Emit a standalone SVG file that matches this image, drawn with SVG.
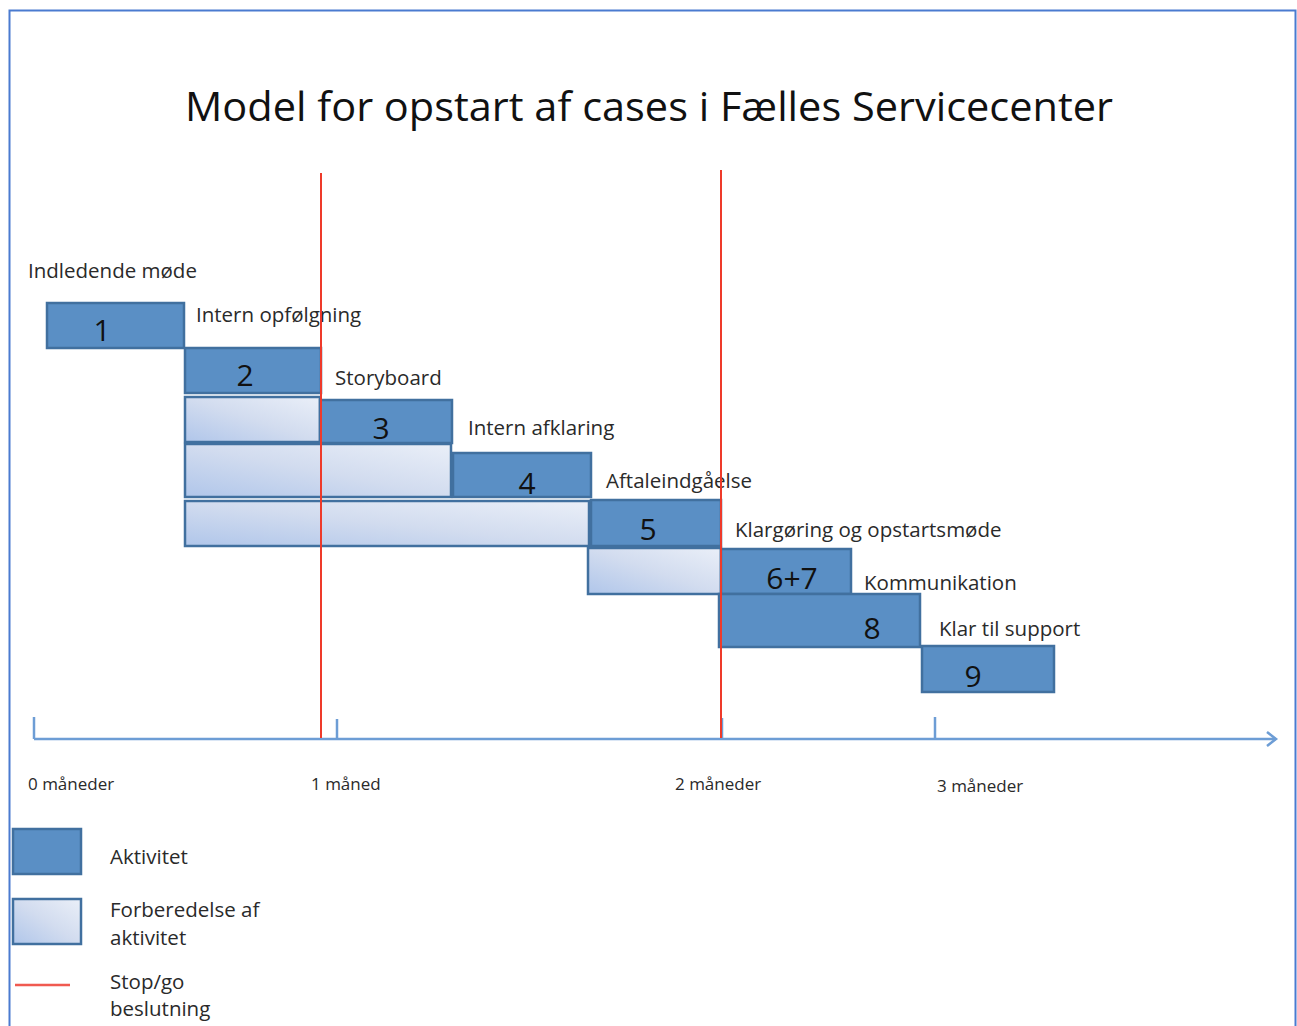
<svg xmlns="http://www.w3.org/2000/svg" width="1297" height="1026" viewBox="0 0 1297 1026">
  <style>
    .act { fill: #5a8fc5; stroke: #41709f; stroke-width: 2.5; }
    .prep { fill: url(#prepFill); stroke: #41709f; stroke-width: 2.5; }
    .num { font-family: "Open Sans", "Liberation Sans", sans-serif; font-size: 30px; fill: #111; text-anchor: middle; }
    .lbl { font-family: "Open Sans", "Liberation Sans", sans-serif; font-size: 20.5px; fill: #2a2a2a; }
    .tick { font-family: "Open Sans", "Liberation Sans", sans-serif; font-size: 17px; fill: #2a2a2a; }
    .stop { stroke: #ee3a2a; stroke-width: 2; }
    .axis { stroke: #6d9dd5; stroke-width: 2.5; fill: none; }
  </style>
  <defs>
    <linearGradient id="prepFill" x1="0" y1="1" x2="1" y2="0">
      <stop offset="0" stop-color="#b0c6ea"/>
      <stop offset="0.5" stop-color="#d2dcef"/>
      <stop offset="1" stop-color="#eaeff8"/>
    </linearGradient>
    <marker id="arrowOpen" markerWidth="14" markerHeight="16" refX="11" refY="8" orient="auto" markerUnits="userSpaceOnUse">
      <path d="M2,1 L11,8 L2,15" fill="none" stroke="#6d9dd5" stroke-width="2.5"/>
    </marker>
  </defs>

  <rect width="1297" height="1026" fill="#ffffff"/>
  <!-- outer frame -->
  <path d="M9.5,1030 V10.5 H1295.5 V1030" fill="none" stroke="#4a7bd0" stroke-width="2"/>

  <text x="649" y="121" font-family="'Open Sans', 'Liberation Sans', sans-serif" font-size="40" fill="#111" text-anchor="middle" textLength="928" lengthAdjust="spacingAndGlyphs">Model for opstart af cases i Fælles Servicecenter</text>

  <!-- preparation bars -->
  <g id="prep-3"><rect class="prep" x="185" y="397" width="135" height="45"/></g>
  <g id="prep-4"><rect class="prep" x="185" y="444" width="266" height="53"/></g>
  <g id="prep-5"><rect class="prep" x="185" y="501" width="404" height="45"/></g>
  <g id="prep-67"><rect class="prep" x="588" y="548" width="133" height="46"/></g>

  <!-- activity bars -->
  <g id="act-1">
    <rect class="act" x="47" y="303" width="137" height="45"/>
    <text class="num" x="102" y="341">1</text>
    <text class="lbl" x="28" y="278">Indledende møde</text>
  </g>
  <g id="act-2">
    <rect class="act" x="185" y="348" width="136" height="45"/>
    <text class="num" x="245" y="386">2</text>
    <text class="lbl" x="196" y="322">Intern opfølgning</text>
  </g>
  <g id="act-3">
    <rect class="act" x="320" y="400" width="132" height="43"/>
    <text class="num" x="381" y="439">3</text>
    <text class="lbl" x="335" y="385">Storyboard</text>
  </g>
  <g id="act-4">
    <rect class="act" x="453" y="453" width="138" height="44"/>
    <text class="num" x="527" y="494">4</text>
    <text class="lbl" x="468" y="435">Intern afklaring</text>
  </g>
  <g id="act-5">
    <rect class="act" x="591" y="500" width="130" height="46"/>
    <text class="num" x="648" y="540">5</text>
    <text class="lbl" x="606" y="488">Aftaleindgåelse</text>
  </g>
  <g id="act-67">
    <rect class="act" x="721" y="549" width="130" height="45"/>
    <text class="num" x="792" y="589">6+7</text>
    <text class="lbl" x="735" y="537">Klargøring og opstartsmøde</text>
  </g>
  <g id="act-8">
    <rect class="act" x="719" y="594" width="201" height="53"/>
    <text class="num" x="872" y="639">8</text>
    <text class="lbl" x="864" y="590">Kommunikation</text>
  </g>
  <g id="act-9">
    <rect class="act" x="922" y="646" width="132" height="46"/>
    <text class="num" x="973" y="687">9</text>
    <text class="lbl" x="939" y="636">Klar til support</text>
  </g>

  <!-- time axis and stop/go lines -->
  <g id="connectors">
    <line class="axis" x1="34" y1="739" x2="1276" y2="739" marker-end="url(#arrowOpen)"/>
    <line class="axis" x1="34" y1="717" x2="34" y2="739"/>
    <line class="axis" x1="337" y1="719" x2="337" y2="739"/>
    <line class="axis" x1="722" y1="718" x2="722" y2="739"/>
    <line class="axis" x1="935" y1="717" x2="935" y2="739"/>
    <line class="stop" x1="321" y1="173" x2="321" y2="738"/>
    <line class="stop" x1="721" y1="170" x2="721" y2="738"/>
  </g>

  <text class="tick" x="28" y="790">0 måneder</text>
  <text class="tick" x="311" y="790">1 måned</text>
  <text class="tick" x="675" y="790">2 måneder</text>
  <text class="tick" x="937" y="792">3 måneder</text>

  <!-- legend -->
  <g id="legend">
    <rect class="act" x="13" y="829" width="68" height="45"/>
    <text class="lbl" x="110" y="864">Aktivitet</text>
    <rect class="prep" x="13" y="899" width="68" height="45"/>
    <text class="lbl" x="110" y="917">Forberedelse af</text>
    <text class="lbl" x="110" y="945">aktivitet</text>
    <line x1="15" y1="985" x2="70" y2="985" stroke="#f05a50" stroke-width="2.5"/>
    <text class="lbl" x="110" y="989">Stop/go</text>
    <text class="lbl" x="110" y="1016">beslutning</text>
  </g>
</svg>
